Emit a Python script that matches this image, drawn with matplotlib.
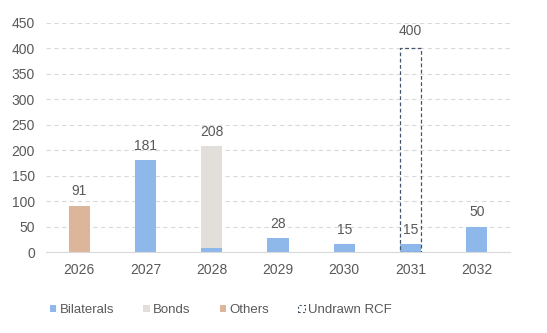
import numpy as np
import matplotlib.pyplot as plt
from matplotlib.patches import Patch

plt.rcParams['font.family'] = ['Liberation Sans', 'DejaVu Sans']

# donnees
annees = ['2026', '2027', '2028', '2029', '2030', '2031', '2032']
bilaterals = [0, 180, 8, 28, 15, 15, 50]
bonds = [0, 0, 200, 0, 0, 0, 0]
others = [91, 1, 0, 0, 0, 0, 0]
undrawn_rcf = [0, 0, 0, 0, 0, 400, 0]
etiquettes = [91, 181, 208, 28, 15, 15, 50]

c_bil = '#8FB8EA'
c_bonds = '#E2DEDA'
c_oth = '#DDB59B'
c_txt = '#595959'

fig = plt.figure(figsize=(5.47, 3.33), dpi=100)
ax = fig.add_axes([46/547, 1-252/333, (510-46)/547, (252-22.7)/333])

x = np.arange(len(annees))
w = 0.32
b1 = np.array(bilaterals)
b2 = b1 + np.array(bonds)
ax.bar(x, bilaterals, w, color=c_bil, zorder=2)
ax.bar(x, bonds, w, bottom=b1, color=c_bonds, zorder=2)
ax.bar(x, others, w, bottom=b2, color=c_oth, zorder=2)
# RCF non tire : contour pointille
for i, v in enumerate(undrawn_rcf):
    if v > 0:
        ax.bar(x[i], v, w, fill=False, edgecolor='#44546A', linestyle=(0, (3, 2)),
               linewidth=0.9, zorder=3)

for i in range(len(annees)):
    ax.text(x[i], etiquettes[i] + 14, str(etiquettes[i]), ha='center', va='bottom',
            fontsize=10, color=c_txt, zorder=4)
    if undrawn_rcf[i] > 0:
        ax.text(x[i], undrawn_rcf[i] + 20, str(undrawn_rcf[i]), ha='center', va='bottom',
                fontsize=10, color=c_txt, zorder=4)

ax.set_xlim(-0.5, len(annees) - 0.5)
ax.set_ylim(0, 450)
ax.set_yticks(np.arange(0, 451, 50))
ax.set_xticks(x)
ax.set_xticklabels(annees)
ax.yaxis.grid(True, color='#D9D9D9', linestyle=(0, (4, 3)), linewidth=0.8, zorder=0)
for s in ['top', 'right', 'left']:
    ax.spines[s].set_visible(False)
ax.spines['bottom'].set_color('#D9D9D9')
ax.tick_params(axis='both', length=0, colors=c_txt, labelsize=10)
ax.tick_params(axis='x', pad=8)
ax.tick_params(axis='y', pad=8)

handles = [Patch(facecolor=c_bil, label='Bilaterals'),
           Patch(facecolor=c_bonds, label='Bonds'),
           Patch(facecolor=c_oth, label='Others'),
           Patch(facecolor='none', edgecolor='#44546A', linestyle=(0, (2, 2)),
                 linewidth=0.8, label='Undrawn RCF')]
leg = fig.legend(handles=handles, loc='center left', bbox_to_anchor=(38/547, 1-310/333),
                 ncol=4, frameon=False, fontsize=9.5, handlelength=0.5, handleheight=0.5,
                 handletextpad=0.25, columnspacing=2.2, labelcolor=c_txt)

fig.savefig('out.png', dpi=100)
